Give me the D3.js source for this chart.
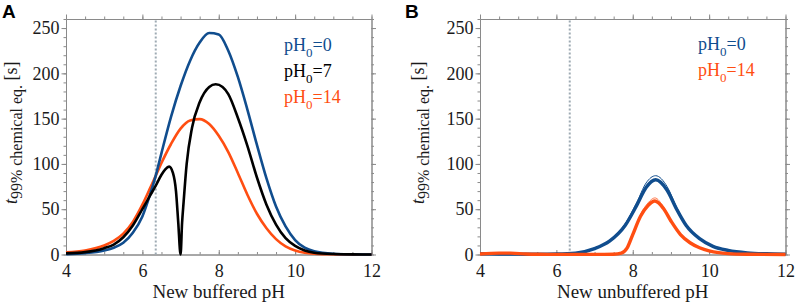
<!DOCTYPE html>
<html>
<head>
<meta charset="utf-8">
<script src="https://cdn.jsdelivr.net/npm/d3@7"></script>
<style>
  body { margin: 0; background: #fff; }
  svg text { font-family: "Liberation Serif", "Times New Roman", Tinos, Times, serif; }
</style>
</head>
<body>
<svg id="chart" width="796" height="307"></svg>
<script>
// -- DATA --
// panel A, buffered
const bufPH = [4, 4.5, 5, 5.25, 5.5, 5.75, 6, 6.2, 6.35, 6.5, 6.75, 7, 7.25, 7.5, 7.75, 8, 8.25, 8.5, 8.75, 9, 9.25, 9.5, 9.75, 10, 10.25, 10.5, 11, 11.5, 12];
const bufStart0 = [0.3, 1.5, 4.5, 7.5, 13, 24, 42, 66, 87, 112, 152, 186, 214, 234, 244.5, 243, 225, 196, 160, 121, 84, 53, 31, 16, 7.5, 3.5, 0.8, 0.2, 0];
const bufStart14 = [2.3, 4.5, 10, 15, 23, 36, 55, 73, 87, 101, 122, 139, 148, 149.5, 144, 131, 113, 90, 66, 45, 29, 17, 9, 4.5, 2, 0.9, 0.2, 0.05, 0];
const bufPH7 = [4, 4.5, 5, 5.25, 5.5, 5.75, 6, 6.2, 6.35, 6.5, 6.6, 6.7, 6.8, 6.88, 6.94, 7, 7.04, 7.08, 7.16, 7.3, 7.5, 7.75, 7.92, 8.1, 8.25, 8.5, 8.75, 9, 9.25, 9.5, 9.75, 10, 10.25, 10.5, 11, 11.5, 12];
const bufStart7 = [1.2, 2.6, 7, 11, 19, 32, 50, 65, 76, 88, 94, 97, 90, 70, 35, 0, 35, 58, 100, 140, 168, 185, 188, 185, 177, 151, 120, 85, 55, 33, 18, 9.5, 4.5, 2, 0.5, 0.1, 0];

// panel B, unbuffered
const unbufPH0 = [4, 4.5, 5, 5.5, 6, 6.5, 7, 7.4, 7.8, 8.1, 8.35, 8.6, 8.9, 9.15, 9.4, 9.75, 10.1, 10.5, 11, 11.5, 12];
const unbufStart0 = [0.8, 0.6, 0.4, 0.3, 0.5, 1.5, 6.5, 15, 32, 54, 74, 82.5, 71, 50, 32, 17.5, 9, 4.5, 1.8, 0.8, 0.4];
const unbufStart0Thin = [0.8, 0.6, 0.4, 0.3, 0.5, 1.5, 7, 16, 34, 57, 79, 87, 75, 52, 33, 18, 9, 4.5, 1.8, 0.8, 0.4];
const unbufPH14 = [4, 4.5, 4.8, 5.2, 5.5, 6, 7, 7.5, 7.7, 7.85, 8, 8.2, 8.4, 8.58, 8.8, 9, 9.25, 9.5, 9.75, 10, 10.25, 10.5, 11, 12];
const unbufStart14 = [0.5, 1.5, 1.5, 0.5, 0.2, 0.1, 0.1, 0.3, 1.5, 7, 22, 42, 54, 59, 51, 37, 22, 13, 7.5, 4, 2, 1, 0.3, 0];
const unbufStart14Thin = [0.5, 1.5, 1.5, 0.5, 0.2, 0.1, 0.1, 0.3, 1.5, 7.5, 23, 44, 57, 62.5, 53, 38, 22.5, 13, 7.5, 4, 2, 1, 0.3, 0];

// axes
const xLabels = [4, 6, 8, 10, 12];
const yLabels = [0, 50, 100, 150, 200, 250];
const pKa = 6.35;

// -- STYLE --
const blue = "#104d8e";
const orange = "#ff4e12";
const black = "#000";
const frameGray = "#8a8a8a";
const serif = "'Liberation Serif', 'Times New Roman', Tinos, Times, serif";

const svg = d3.select("#chart");
const plotTop = 19;
const plotBottom = 254.5;

const zip = (xs, ys) => xs.map((x, i) => ({ x, y: ys[i] }));

const panels = [
  {
    letter: "A", letterX: 2, left: 66, right: 371.5, titleX: 17,
    xTitle: "New buffered pH",
    series: [
      { data: zip(bufPH, bufStart14), color: orange, width: 2.6 },
      { data: zip(bufPH, bufStart0), color: blue, width: 2.6 },
      { data: zip(bufPH7, bufStart7), color: black, width: 2.6 }
    ],
    legend: [
      { start: "0", color: blue, x: 284, y: 51 },
      { start: "7", color: black, x: 284, y: 77 },
      { start: "14", color: orange, x: 284, y: 103 }
    ]
  },
  {
    letter: "B", letterX: 405, left: 480, right: 785.5, titleX: 424,
    xTitle: "New unbuffered pH",
    series: [
      { data: zip(unbufPH0, unbufStart0Thin), color: blue, width: 1 },
      { data: zip(unbufPH14, unbufStart14Thin), color: orange, width: 1, opacity: 0.7 },
      { data: zip(unbufPH0, unbufStart0), color: blue, width: 3.4 },
      { data: zip(unbufPH14, unbufStart14), color: orange, width: 3.4 }
    ],
    legend: [
      { start: "0", color: blue, x: 698, y: 50 },
      { start: "14", color: orange, x: 698, y: 76 }
    ]
  }
];

function drawPanel(p) {
  const g = svg.append("g");

  // Scales
  const x = d3.scaleLinear().domain([4, 12]).range([p.left, p.right]);
  const y = d3.scaleLinear().domain([0, 260]).range([plotBottom, plotTop]);

  // frame ticks: minor first, then major
  const minorX = d3.range(4, 12.01, 0.5);
  const minorY = d3.range(0, 260.01, 10);

  const bottom = g.append("g").attr("transform", `translate(0,${plotBottom})`);
  bottom.append("g").call(d3.axisBottom(x).tickValues(minorX).tickSize(-2.5).tickSizeOuter(0).tickFormat(""));
  bottom.append("g").call(d3.axisBottom(x).tickValues(xLabels).tickSize(-4.5).tickSizeOuter(0).tickPadding(10));

  const top = g.append("g").attr("transform", `translate(0,${plotTop})`);
  top.append("g").call(d3.axisTop(x).tickValues(minorX).tickSize(2.5).tickSizeOuter(0).tickFormat(""));
  top.append("g").call(d3.axisTop(x).tickValues(xLabels).tickSize(4.5).tickSizeOuter(0).tickFormat(""));

  const left = g.append("g").attr("transform", `translate(${p.left},0)`);
  left.append("g").call(d3.axisLeft(y).tickValues(minorY).tickSize(2.5).tickSizeOuter(0).tickFormat(""));
  left.append("g").call(d3.axisLeft(y).tickValues(yLabels).tickSize(4.5).tickSizeOuter(0).tickPadding(2));

  const right = g.append("g").attr("transform", `translate(${p.right},0)`);
  right.append("g").call(d3.axisRight(y).tickValues(minorY).tickSize(2.5).tickSizeOuter(0).tickFormat(""));
  right.append("g").call(d3.axisRight(y).tickValues(yLabels).tickSize(4.5).tickSizeOuter(0).tickFormat(""));

  // d3 puts font-family on the axis group, take it back
  g.selectAll("g").attr("font-family", null).attr("font-size", null);
  g.selectAll(".domain, .tick line").attr("stroke", frameGray).attr("stroke-width", 1);
  g.selectAll(".tick text")
    .attr("fill", "#1a1a1a")
    .style("font-size", "18px")
    .style("font-family", serif);

  // pKa marker
  g.append("line")
    .attr("x1", x(pKa)).attr("x2", x(pKa))
    .attr("y1", y(0)).attr("y2", y(260))
    .attr("stroke", "#9eaab3")
    .attr("stroke-width", 2)
    .attr("stroke-dasharray", "2,2");

  // curves
  const line = d3.line()
    .x((d) => x(d.x))
    .y((d) => y(d.y))
    .curve(d3.curveMonotoneX);
  g.selectAll("path.curve")
    .data(p.series)
    .enter()
    .append("path")
    .attr("class", "curve")
    .attr("d", (d) => line(d.data))
    .attr("fill", "none")
    .attr("stroke", (d) => d.color)
    .attr("stroke-width", (d) => d.width)
    .attr("stroke-opacity", (d) => d.opacity || 1)
    .attr("stroke-linejoin", "round");

  // legend, pH0=..
  p.legend.forEach((l) => {
    const t = g.append("text")
      .attr("x", l.x)
      .attr("y", l.y)
      .attr("fill", l.color)
      .style("font-family", serif)
      .style("font-size", "18px");
    t.append("tspan").text("pH");
    t.append("tspan").attr("dy", 6).style("font-size", "13px").text("0");
    t.append("tspan").attr("dy", -6).text("=" + l.start);
  });

  // axis titles
  g.append("text")
    .attr("x", (p.left + p.right) / 2)
    .attr("y", 298)
    .attr("text-anchor", "middle")
    .attr("fill", "#1a1a1a")
    .style("font-family", serif)
    .style("font-size", "19px")
    .text(p.xTitle);

  const yt = g.append("text")
    .attr("transform", `translate(${p.titleX},${(plotTop + plotBottom) / 2 - 4}) rotate(-90)`)
    .attr("text-anchor", "middle")
    .attr("fill", "#1a1a1a")
    .style("font-family", serif)
    .style("font-size", "18px");
  yt.append("tspan").style("font-style", "italic").text("t");
  yt.append("tspan").attr("dy", 5).style("font-size", "16px").text("99% chemical eq.");
  yt.append("tspan").attr("dy", -5).text("\u00a0[s]");

  // panel letter
  svg.append("text")
    .attr("x", p.letterX)
    .attr("y", 18)
    .style("font-family", "'Liberation Sans', Arial, sans-serif")
    .style("font-weight", "bold")
    .style("font-size", "19px")
    .text(p.letter);
}

panels.forEach(drawPanel);
</script>
</body>
</html>
